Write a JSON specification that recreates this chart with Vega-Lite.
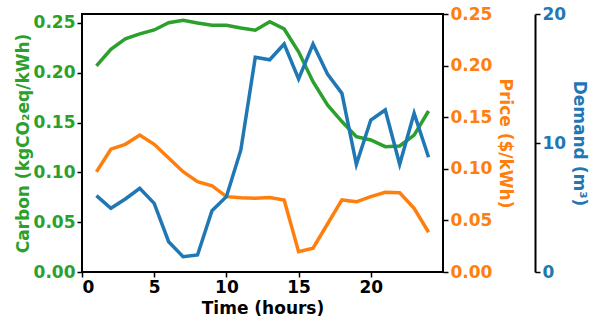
{
  "$schema": "https://vega.github.io/schema/vega-lite/v6.json",
  "width": 361,
  "height": 258,
  "autosize": "none",
  "padding": {"left": 82, "top": 14, "right": 155, "bottom": 53},
  "background": "white",
  "config": {
    "view": {"stroke": "black", "strokeWidth": 2},
    "axis": {
      "labelFont": "DejaVu Sans", "labelFontWeight": "bold", "labelFontSize": 17,
      "titleFont": "DejaVu Sans", "titleFontWeight": "bold", "titleFontSize": 17,
      "grid": false, "tickColor": "black", "tickWidth": 1.5, "tickSize": 5,
      "domain": false, "labelPadding": 2
    }
  },
  "data": {"values": [
    {"hour": 1, "carbon": 0.207, "price": 0.097, "demand": 5.92},
    {"hour": 2, "carbon": 0.2236, "price": 0.119, "demand": 4.94},
    {"hour": 3, "carbon": 0.234, "price": 0.1237, "demand": 5.66},
    {"hour": 4, "carbon": 0.239, "price": 0.1327, "demand": 6.49},
    {"hour": 5, "carbon": 0.243, "price": 0.1237, "demand": 5.32},
    {"hour": 6, "carbon": 0.2503, "price": 0.1105, "demand": 2.35},
    {"hour": 7, "carbon": 0.2527, "price": 0.0972, "demand": 1.19},
    {"hour": 8, "carbon": 0.250, "price": 0.0875, "demand": 1.32},
    {"hour": 9, "carbon": 0.2477, "price": 0.0836, "demand": 4.75},
    {"hour": 10, "carbon": 0.2477, "price": 0.073, "demand": 5.84},
    {"hour": 11, "carbon": 0.245, "price": 0.072, "demand": 9.46},
    {"hour": 12, "carbon": 0.2427, "price": 0.0714, "demand": 16.64},
    {"hour": 13, "carbon": 0.2512, "price": 0.0722, "demand": 16.45},
    {"hour": 14, "carbon": 0.244, "price": 0.0698, "demand": 17.67},
    {"hour": 15, "carbon": 0.221, "price": 0.0197, "demand": 14.96},
    {"hour": 16, "carbon": 0.191, "price": 0.023, "demand": 17.67},
    {"hour": 17, "carbon": 0.1677, "price": 0.0465, "demand": 15.35},
    {"hour": 18, "carbon": 0.151, "price": 0.0698, "demand": 13.85},
    {"hour": 19, "carbon": 0.1359, "price": 0.068, "demand": 8.35},
    {"hour": 20, "carbon": 0.1325, "price": 0.073, "demand": 11.78},
    {"hour": 21, "carbon": 0.1258, "price": 0.0772, "demand": 12.56},
    {"hour": 22, "carbon": 0.1265, "price": 0.0768, "demand": 8.35},
    {"hour": 23, "carbon": 0.1375, "price": 0.0617, "demand": 12.3},
    {"hour": 24, "carbon": 0.1616, "price": 0.0385, "demand": 8.89}
  ]},
  "encoding": {
    "x": {
      "field": "hour", "type": "quantitative",
      "scale": {"domain": [0, 25], "nice": false, "zero": false},
      "axis": {"title": "Time (hours)", "values": [0, 5, 10, 15, 20], "labelColor": "black", "titleColor": "black", "titlePadding": 5}
    }
  },
  "layer": [
    {
      "mark": {"type": "line", "color": "#2ca02c", "strokeWidth": 3.5},
      "encoding": {
        "y": {
          "field": "carbon", "type": "quantitative",
          "scale": {"domain": [0, 0.259], "nice": false},
          "axis": {"orient": "left", "title": "Carbon (kgCO₂eq/kWh)", "values": [0, 0.05, 0.1, 0.15, 0.2, 0.25], "format": ".2f",
                   "labelColor": "#2ca02c", "titleColor": "#2ca02c", "titlePadding": 1}
        }
      }
    },
    {
      "mark": {"type": "line", "color": "#ff7f0e", "strokeWidth": 3.5},
      "encoding": {
        "y": {
          "field": "price", "type": "quantitative",
          "scale": {"domain": [0, 0.25], "nice": false},
          "axis": {"orient": "right", "title": "Price ($/kWh)", "values": [0, 0.05, 0.1, 0.15, 0.2, 0.25], "format": ".2f",
                   "labelColor": "#ff7f0e", "titleColor": "#ff7f0e", "titlePadding": 4}
        }
      }
    },
    {
      "mark": {"type": "line", "color": "#1f77b4", "strokeWidth": 3.5},
      "encoding": {
        "y": {
          "field": "demand", "type": "quantitative",
          "scale": {"domain": [0, 20], "nice": false},
          "axis": {"orient": "right", "offset": 92, "title": "Demand (m³)", "values": [0, 10, 20],
                   "domain": true, "domainColor": "black", "domainWidth": 2,
                   "labelColor": "#1f77b4", "titleColor": "#1f77b4", "titlePadding": 4}
        }
      }
    }
  ],
  "resolve": {"scale": {"y": "independent"}, "axis": {"y": "independent"}}
}
